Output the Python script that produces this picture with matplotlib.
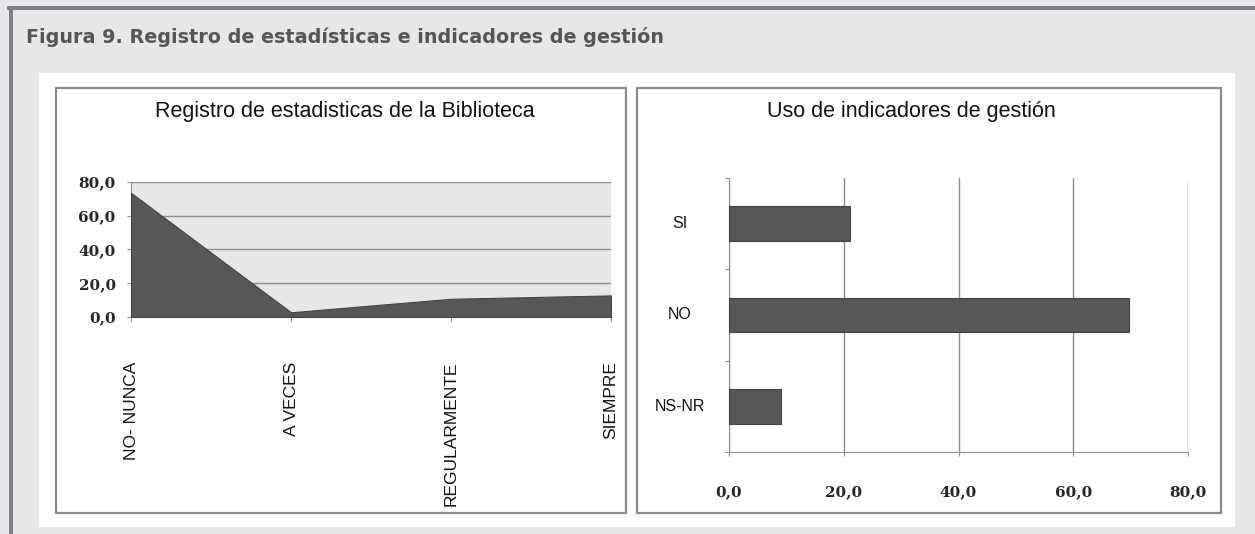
import matplotlib.pyplot as plt
from matplotlib.patches import Rectangle
from matplotlib import transforms

# left chart (area): registro de estadisticas
freq_cats = ['NO- NUNCA', 'A VECES', 'REGULARMENTE', 'SIEMPRE']
freq_vals = [73.6, 2.8, 10.8, 12.8]

# right chart (horizontal bars): uso de indicadores
ind_cats = ['SI', 'NO', 'NS-NR']
ind_vals = [21.1, 69.8, 9.1]

scale_ticks = [0, 20, 40, 60, 80]
scale_labels = ['0,0', '20,0', '40,0', '60,0', '80,0']

W, H = 1255, 534
DARK = '#575757'
GRID = '#8e8e8e'
num_font = dict(family='DejaVu Serif', weight='bold', size=11, color='#262626')
lab_font = dict(family='Liberation Sans', size=12.5, color='#111111')


def rect(x0, y0, x1, y1):
    # pixel box (top-left origin) -> figure fraction
    return [x0 / W, 1 - y1 / H, (x1 - x0) / W, (y1 - y0) / H]


def panel(fig, x0, y0, x1, y1, **kw):
    l, b, w, h = rect(x0, y0, x1, y1)
    fig.add_artist(Rectangle((l, b), w, h, transform=fig.transFigure, zorder=-5, **kw))


fig = plt.figure(figsize=(W / 100, H / 100), dpi=100, facecolor='#e6e7e9')

# page frame
panel(fig, 7, 6, W + 5, 10, facecolor='#7f8083', edgecolor='none')
panel(fig, 9, 6, 13, H + 5, facecolor='#7f8083', edgecolor='none')
panel(fig, 39, 73, 1235, 527, facecolor='white', edgecolor='none')
panel(fig, 56, 88, 626, 513, facecolor='none', edgecolor='#8a8a8a', lw=1.6)
panel(fig, 637, 88, 1221, 513, facecolor='none', edgecolor='#8a8a8a', lw=1.6)

fig.text(26 / W, 1 - 37 / H, 'Figura 9. Registro de estadísticas e indicadores de gestión',
         family='DejaVu Sans', weight='bold', size=13.8, color='#545557', va='center')

# ---- left: area chart
ax1 = fig.add_axes(rect(131, 182, 611, 317))
x = list(range(len(freq_cats)))
ax1.set_facecolor('#e7e7e7')
ax1.fill_between(x, freq_vals, 0, color=DARK, lw=0.8, edgecolor='#444444', zorder=3)
ax1.set_xlim(0, len(freq_cats) - 1)
ax1.set_ylim(0, 80)
ax1.set_yticks(scale_ticks)
ax1.set_yticklabels(scale_labels, fontdict=num_font)
ax1.yaxis.grid(True, color=GRID, lw=1)
ax1.set_axisbelow(True)
for s in ['top', 'right']:
    ax1.spines[s].set_visible(False)
for s in ['left', 'bottom']:
    ax1.spines[s].set_color(GRID)
ax1.tick_params(axis='y', length=3, pad=8, color=GRID)
ax1.set_xticks(x)
ax1.set_xticklabels([])
ax1.tick_params(axis='x', length=3, color=GRID)
tr1 = transforms.blended_transform_factory(ax1.transData, ax1.transAxes)
for xi, lab in zip(x, freq_cats):
    ax1.text(xi, -0.33, lab, transform=tr1, rotation=90, ha='center', va='top', **lab_font)
fig.text(345 / W, 1 - 111 / H, 'Registro de estadisticas de la Biblioteca',
         family='Liberation Sans', size=15.5, color='#111111', ha='center', va='center')

# ---- right: horizontal bars
ax2 = fig.add_axes(rect(729, 178, 1188, 452))
y = list(range(len(ind_cats)))
ax2.barh(y, ind_vals, height=0.38, color=DARK, edgecolor='#444444', lw=0.8, zorder=3)
ax2.set_ylim(len(ind_cats) - 0.5, -0.5)
ax2.set_xlim(0, 80)
ax2.set_xticks(scale_ticks)
ax2.set_xticklabels(scale_labels, fontdict=num_font)
ax2.xaxis.grid(True, color=GRID, lw=1)
ax2.set_axisbelow(True)
ax2.spines['top'].set_visible(False)
ax2.spines['right'].set_visible(False)
for s in ['left', 'bottom']:
    ax2.spines[s].set_color(GRID)
ax2.set_yticks([i - 0.5 for i in range(len(ind_cats) + 1)])
ax2.set_yticklabels([])
ax2.tick_params(axis='y', length=3, color=GRID)
ax2.tick_params(axis='x', length=3, pad=21, color=GRID)
tr2 = transforms.blended_transform_factory(ax2.transAxes, ax2.transData)
for yi, lab in zip(y, ind_cats):
    ax2.text(-0.107, yi, lab, transform=tr2, ha='center', va='center',
             family='Liberation Sans', size=11.5, color='#111111')
fig.text(911 / W, 1 - 111 / H, 'Uso de indicadores de gestión',
         family='Liberation Sans', size=15.5, color='#111111', ha='center', va='center')

fig.savefig('out.png', dpi=100, facecolor=fig.get_facecolor())
